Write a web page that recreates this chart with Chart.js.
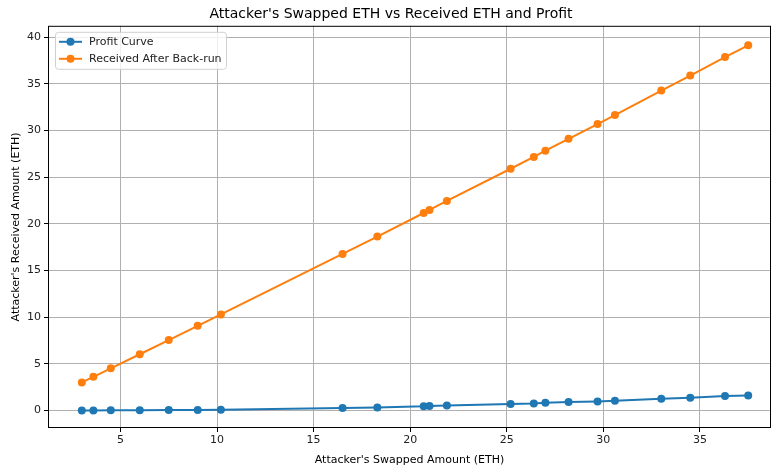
<!DOCTYPE html>
<html>
<head>
<meta charset="utf-8">
<script src="https://cdn.jsdelivr.net/npm/chart.js@4"></script>
<style>
  html, body { margin: 0; padding: 0; background: #fff; }
  #wrap { width: 771px; height: 468px; }
</style>
</head>
<body>
<div id="wrap"><canvas id="chart"></canvas></div>
<script>
const swapped = [3.0, 3.6, 4.5, 6.0, 7.5, 9.0, 10.2, 16.5, 18.3, 20.7, 21.0, 21.9, 25.2, 26.4, 27.0, 28.2, 29.7, 30.6, 33.0, 34.5, 36.3, 37.5];
const profit = [0.0, 0.0, 0.01, 0.02, 0.04, 0.06, 0.08, 0.26, 0.32, 0.45, 0.48, 0.54, 0.69, 0.75, 0.82, 0.9, 0.97, 1.04, 1.26, 1.37, 1.55, 1.61];
const received = swapped.map((s, i) => s + profit[i]);
const xTicks = [5, 10, 15, 20, 25, 30, 35];
const yTicks = [0, 5, 10, 15, 20, 25, 30, 35, 40];

const FONT = "DejaVu Sans";
const BLUE = "#1f77b4";
const ORANGE = "#ff7f0e";

const toPoints = (ys) => swapped.map((x, i) => ({ x, y: ys[i] }));

const frame = {
    id: "frame",
    afterDraw(chart) {
        const { ctx, chartArea: a } = chart;
        ctx.save();
        ctx.strokeStyle = "#000";
        ctx.lineWidth = 1;
        ctx.strokeRect(a.left + 0.5, a.top + 0.5, a.right - a.left - 1, a.bottom - a.top - 1);

        // legend box, matplotlib style
        const bx = a.left + 7, by = a.top + 6, bw = 171, bh = 37;
        ctx.fillStyle = "rgba(255,255,255,0.8)";
        ctx.strokeStyle = "#d0d0d0";
        ctx.lineWidth = 1;
        ctx.beginPath();
        ctx.roundRect(bx + 0.5, by + 0.5, bw, bh, 3);
        ctx.fill();
        ctx.stroke();
        ctx.font = "11px '" + FONT + "'";
        ctx.textBaseline = "middle";
        chart.data.datasets.forEach((ds, i) => {
            const y = by + 10 + i * 17;
            ctx.strokeStyle = ds.borderColor;
            ctx.lineWidth = 2;
            ctx.beginPath();
            ctx.moveTo(bx + 4, y);
            ctx.lineTo(bx + 27, y);
            ctx.stroke();
            ctx.fillStyle = ds.borderColor;
            ctx.beginPath();
            ctx.arc(bx + 15.5, y, 4, 0, Math.PI * 2);
            ctx.fill();
            ctx.fillStyle = "#222";
            ctx.fillText(ds.label, bx + 34, y);
        });
        ctx.restore();
    }
};

new Chart(document.getElementById("chart"), {
    type: "scatter",
    data: {
        datasets: [
            {
                label: "Profit Curve",
                data: toPoints(profit),
                showLine: true,
                borderColor: BLUE,
                backgroundColor: BLUE,
                borderWidth: 2,
                pointRadius: 4,
                pointBorderWidth: 0,
                pointHoverRadius: 4,
            },
            {
                label: "Received After Back-run",
                data: toPoints(received),
                showLine: true,
                borderColor: ORANGE,
                backgroundColor: ORANGE,
                borderWidth: 2,
                pointRadius: 4,
                pointBorderWidth: 0,
                pointHoverRadius: 4,
            },
        ],
    },
    options: {
        responsive: true,
        maintainAspectRatio: false,
        animation: false,
        layout: { autoPadding: false, padding: { left: 10, right: -1, top: 0, bottom: 1 } },
        plugins: {
            legend: { display: false },
            tooltip: { enabled: false },
            title: {
                display: true,
                text: "Attacker's Swapped ETH vs Received ETH and Profit",
                color: "#000",
                font: { family: FONT, size: 14, weight: "normal" },
                padding: { top: 6, bottom: 3 },
            },
        },
        scales: {
            x: {
                type: "linear",
                min: 1.25,
                max: 38.68,
                afterBuildTicks: (s) => { s.ticks = xTicks.map((v) => ({ value: v })); },
                afterFit: (s) => { s.height = 39; s.paddingRight = 0; s.paddingLeft = 0; },
                grid: { color: "#b0b0b0", lineWidth: 1, tickColor: "#000", tickLength: 4 },
                border: { display: false },
                ticks: { color: "#222", font: { family: FONT, size: 11 }, padding: 2, maxRotation: 0 },
                title: {
                    display: true,
                    text: "Attacker's Swapped Amount (ETH)",
                    color: "#000",
                    font: { family: FONT, size: 11 },
                    padding: { top: 2, bottom: 0 },
                },
            },
            y: {
                type: "linear",
                min: -1.88,
                max: 41.2,
                afterBuildTicks: (s) => { s.ticks = yTicks.map((v) => ({ value: v })); },
                afterFit: (s) => { s.width = 38; },
                grid: { color: "#b0b0b0", lineWidth: 1, tickColor: "#000", tickLength: 4 },
                border: { display: false },
                ticks: { color: "#222", font: { family: FONT, size: 11 }, padding: 3 },
                title: {
                    display: true,
                    text: "Attacker's Received Amount (ETH)",
                    color: "#000",
                    font: { family: FONT, size: 11 },
                    padding: { top: 0, bottom: 2 },
                },
            },
        },
    },
    plugins: [frame],
});
</script>
</body>
</html>
